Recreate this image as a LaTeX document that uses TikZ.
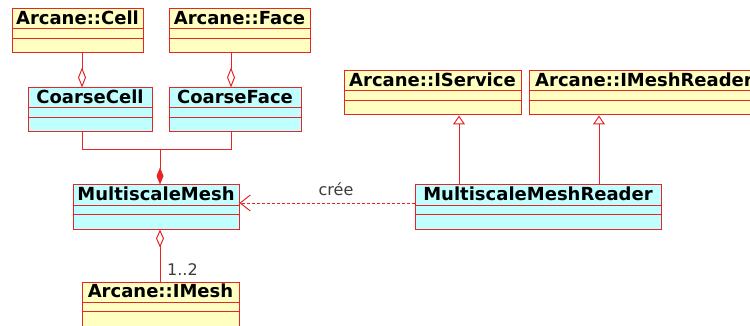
\documentclass[tikz,border=0pt]{standalone}
\usepackage{fontspec}
\setmainfont{DejaVu Sans}
\usetikzlibrary{arrows.meta,calc}
\definecolor{umlred}{RGB}{232,36,36}
\definecolor{umlyellow}{RGB}{255,255,194}
\definecolor{umlcyan}{RGB}{192,255,255}
\definecolor{labelgray}{RGB}{60,60,60}
\tikzset{
  classbox/.style={draw=umlred, line width=1pt, inner sep=0pt, rectangle},
  titletext/.style={anchor=base, inner sep=0pt, font=\fontsize{18}{18}\selectfont\bfseries},
  seprule/.style={draw=umlred, line width=1pt},
  conn/.style={draw=umlred, line width=1pt},
  lbl/.style={inner sep=0pt, text=labelgray, font=\fontsize{16}{16}\selectfont},
}
% name, x1, y1, x2, y2, fill, title
\newcommand\umlclass[7]{%
  \node[classbox, fill=#6, minimum width={(#4-#2)*1pt}, minimum height={(#5-#3)*1pt}]
    (#1) at ({(#2+#4)/2},{(#3+#5)/2}) {};
  \draw[seprule] ($(#1.north west)+(0,20.5)$) -- ($(#1.north east)+(0,20.5)$);
  \draw[seprule] ($(#1.north west)+(0,30)$) -- ($(#1.north east)+(0,30)$);
  \node[titletext] (#1-title) at ($(#1.north)+(0,16)$) {#7};
}
\begin{document}
\begin{tikzpicture}[x=1pt,y=-1pt]
\useasboundingbox (0,0) rectangle (750,326);
\fill[white] (0,0) rectangle (750,326);
\clip (0,0) rectangle (750,326);

\umlclass{cell}{12}{9}{143}{53}{umlyellow}{Arcane::Cell}
\umlclass{face}{169}{9}{310}{53}{umlyellow}{Arcane::Face}
\umlclass{ccell}{28}{88}{152}{132}{umlcyan}{CoarseCell}
\umlclass{cface}{169}{88}{301}{132}{umlcyan}{CoarseFace}
\umlclass{iservice}{344}{71}{521}{115}{umlyellow}{Arcane::IService}
\umlclass{imreader}{529}{71}{759}{115}{umlyellow}{Arcane::IMeshReader}
\umlclass{mmesh}{73}{185}{239}{229}{umlcyan}{MultiscaleMesh}
\umlclass{reader}{415}{185}{661}{229}{umlcyan}{MultiscaleMeshReader}
\umlclass{imesh}{82}{282}{239}{330}{umlyellow}{Arcane::IMesh}

\coordinate (xc) at (82,0);
\coordinate (xf) at (231,0);
\coordinate (jn) at (160,150);
\coordinate (xm) at (160,0);
\coordinate (ya) at (0,203);
\coordinate (xs) at (459,0);
\coordinate (xr) at (599,0);

% aggregations Cell/Face -> Coarse*
\draw[conn, -{Diamond[fill=white, length=20pt, width=8pt]}] (cell.south -| xc) -- (ccell.north -| xc);
\draw[conn, -{Diamond[fill=white, length=20pt, width=8pt]}] (face.south -| xf) -- (cface.north -| xf);

% composition Coarse* -> MultiscaleMesh
\draw[conn] (ccell.south -| xc) -- (xc |- jn) -- (xf |- jn) -- (cface.south -| xf);
\draw[conn, -{Diamond[length=17pt, width=7pt]}] (jn) -- (mmesh.north -| jn);

% aggregation MultiscaleMesh -> IMesh
\draw[conn, {Diamond[fill=white, length=18pt, width=8pt]}-] (mmesh.south -| xm) -- (imesh.north -| xm);
\node[lbl, anchor=base west] (mult) at (167,275) {1..2};

% dependency
\draw[conn, dash pattern=on 3pt off 2pt, -{Straight Barb[length=10pt, width=16pt]}] (reader.west |- ya) -- (mmesh.east |- ya);
\node[lbl, anchor=base] (cree) at (336,196) {crée};

% inheritance
\draw[conn, -{Triangle[fill=white, length=9pt, width=12pt]}] (reader.north -| xs) -- (iservice.south -| xs);
\draw[conn, -{Triangle[fill=white, length=9pt, width=12pt]}] (reader.north -| xr) -- (imreader.south -| xr);
\end{tikzpicture}
\end{document}
